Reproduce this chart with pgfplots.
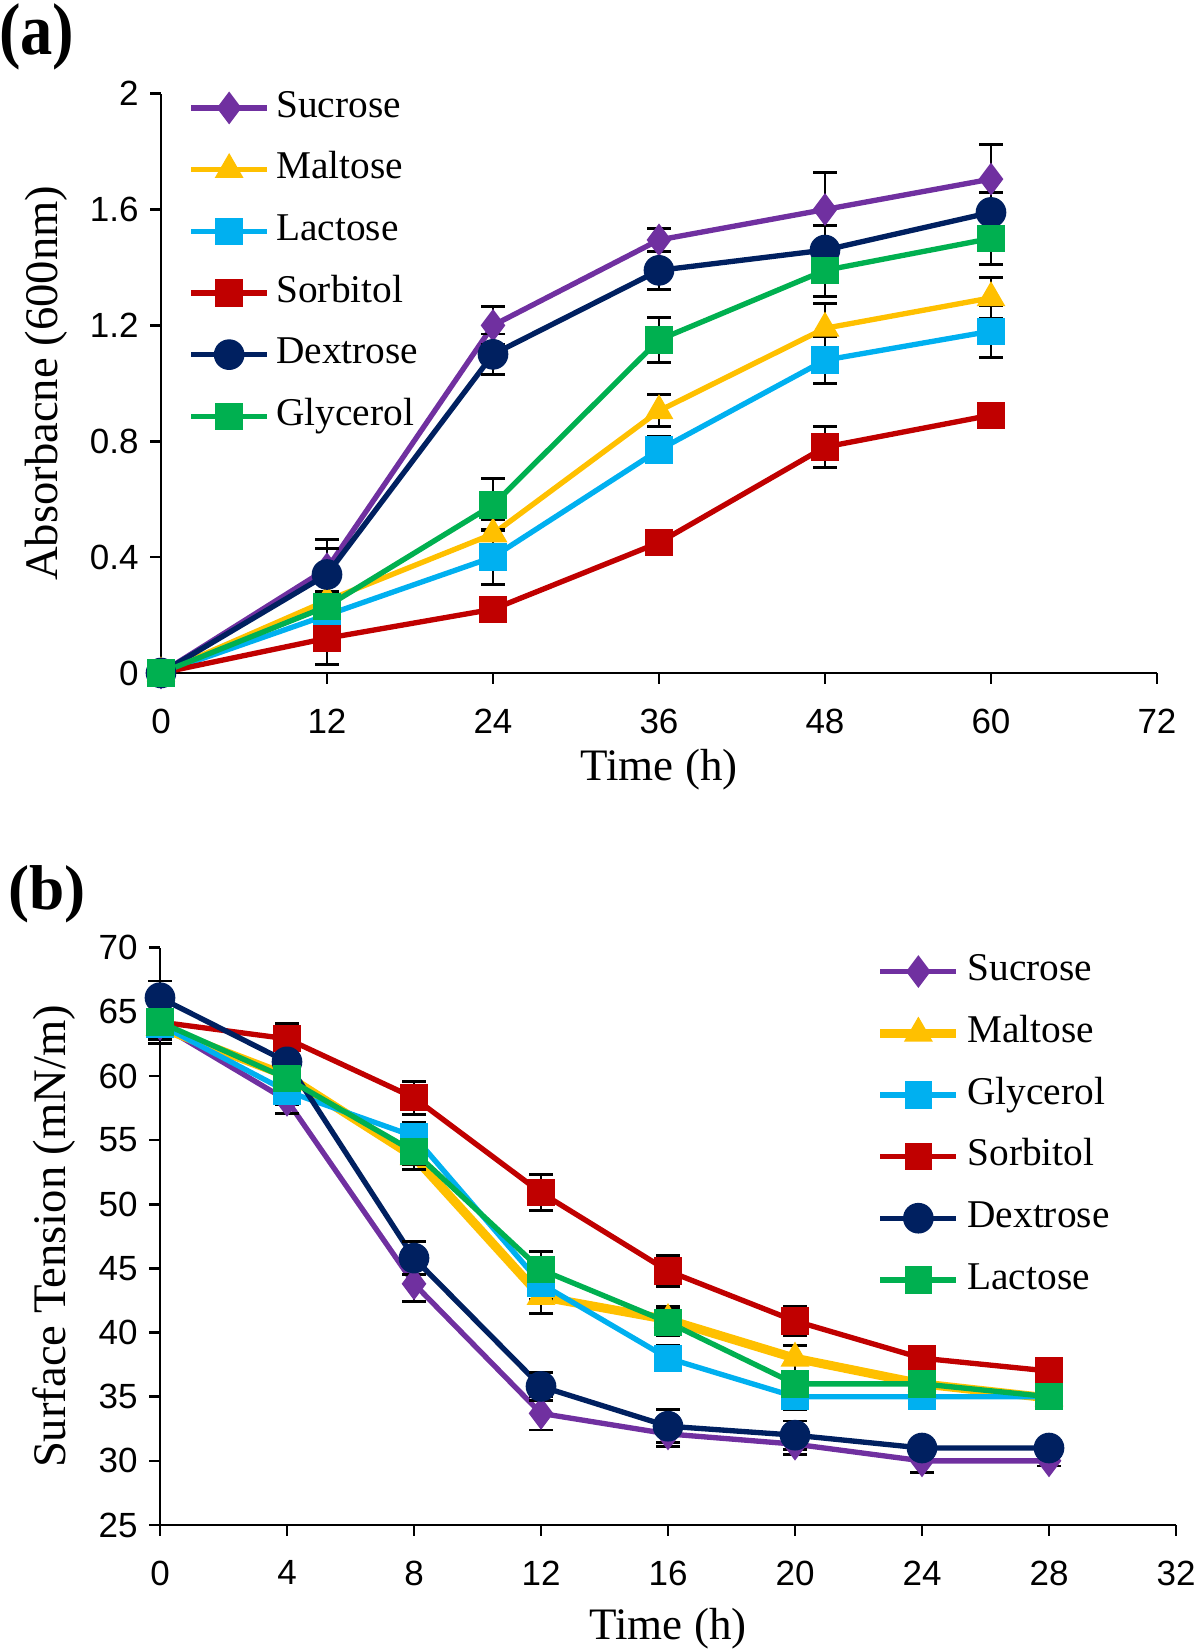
\documentclass[border=0pt]{standalone}
\usepackage{fontspec}
\setmainfont{Liberation Serif}
\newfontfamily\sansf{Liberation Sans}
\usepackage{pgfplots}
\pgfplotsset{compat=1.18}
\definecolor{cpur}{HTML}{7030A0}
\definecolor{cyel}{HTML}{FFC000}
\definecolor{ccya}{HTML}{00B0F0}
\definecolor{cred}{HTML}{C00000}
\definecolor{cnav}{HTML}{002060}
\definecolor{cgrn}{HTML}{00B050}
\pgfplotsset{
 myaxis/.style={
  scale only axis,
  axis x line*=bottom, axis y line*=left,
  axis line style={black, line width=0.8pt, -},
  tick align=outside, major tick length=3.2pt,
  tick style={black, line width=0.8pt},
  ticklabel style={font=\sansf\fontsize{10.5}{12}\selectfont},
  xticklabel style={yshift=-4pt},
  /pgf/number format/assume math mode=true,
  xlabel style={font=\fontsize{13.5}{16}\selectfont},
  ylabel style={font=\fontsize{14}{16}\selectfont},
  clip=false,
  legend cell align=left,
  legend style={draw=none, fill=none, inner sep=0pt, font=\fontsize{11.8}{14}\selectfont, row sep=7pt, column sep=2pt, nodes={inner sep=0pt, text height=8.5pt, text depth=3pt}},
  legend image code/.code={\draw[mark repeat=2,mark phase=2] plot coordinates {(0cm,0cm) (0.4cm,0cm) (0.8cm,0cm)};},
 },
 eb/.style={line width=1.6pt, mark options={solid, line width=0.4pt},
  error bars/y dir=both, error bars/y explicit,
  error bars/error bar style={black, line width=0.85pt, solid},
  error bars/error mark options={black, line width=0.85pt, mark size=3.6pt, rotate=90}},
 sucr/.style={color=cpur, mark=diamond*, mark size=4.6pt, eb},
 malt/.style={color=cyel, mark=triangle*, mark size=4.6pt, eb},
 sqc/.style={color=#1, mark=square*, mark size=3.9pt, eb},
 dext/.style={color=cnav, mark=*, mark size=4.4pt, eb},
}
\begin{document}
\begin{tikzpicture}
\path[use as bounding box] (0,0) rectangle (360pt,494.7pt);
\node[font=\bfseries\fontsize{22}{24}\selectfont, xscale=0.88] at (11pt,483.6pt) {(a)};
\node[font=\bfseries\fontsize{19}{22}\selectfont] at (14.1pt,226.5pt) {(b)};
\begin{axis}[myaxis, at={(48.3pt,292.8pt)}, anchor=origin,
  width=298.8pt, height=173.8pt,
  xmin=0, xmax=72, ymin=0, ymax=2,
  xtick={0,12,24,36,48,60,72}, ytick={0,0.4,0.8,1.2,1.6,2},
  yticklabels={0,0.4,0.8,1.2,1.6,2},
  xlabel={Time (h)}, ylabel={Absorbacne (600nm)},
  xlabel style={yshift=2pt},
  legend style={at={(0.027,1.0095)}, anchor=north west}]
\addplot[sucr] table[row sep=\\, y error index=2] {x y e\\ 0 0 0.04\\ 12 0.36 0.10\\ 24 1.20 0.065\\ 36 1.495 0.04\\ 48 1.60 0.127\\ 60 1.705 0.12\\};
\addlegendentry{Sucrose}
\addplot[malt] table[row sep=\\, y error index=2] {x y e\\ 0 0 0.02\\ 12 0.25 0.03\\ 24 0.48 0.05\\ 36 0.905 0.055\\ 48 1.19 0.085\\ 60 1.295 0.07\\};
\addlegendentry{Maltose}
\addplot[sqc=ccya] table[row sep=\\, y error index=2] {x y e\\ 0 0 0.02\\ 12 0.20 0.03\\ 24 0.40 0.095\\ 36 0.77 0.045\\ 48 1.08 0.08\\ 60 1.18 0.09\\};
\addlegendentry{Lactose}
\addplot[sqc=cred] table[row sep=\\, y error index=2] {x y e\\ 0 0 0.02\\ 12 0.12 0.09\\ 24 0.22 0.035\\ 36 0.45 0.02\\ 48 0.78 0.07\\ 60 0.89 0.0\\};
\addlegendentry{Sorbitol}
\addplot[dext] table[row sep=\\, y error index=2] {x y e\\ 0 0 0.03\\ 12 0.34 0.09\\ 24 1.10 0.07\\ 36 1.39 0.065\\ 48 1.46 0.085\\ 60 1.59 0.07\\};
\addlegendentry{Dextrose}
\addplot[sqc=cgrn] table[row sep=\\, y error index=2] {x y e\\ 0 0 0.02\\ 12 0.23 0.03\\ 24 0.58 0.09\\ 36 1.15 0.078\\ 48 1.39 0.09\\ 60 1.50 0.09\\};
\addlegendentry{Glycerol}
\end{axis}
\begin{axis}[myaxis, at={(48pt,37.2pt)}, anchor=origin,
  width=304.8pt, height=173.2pt,
  xmin=0, xmax=32, ymin=25, ymax=70,
  xtick={0,4,...,32}, ytick={25,30,...,70},
  xlabel={Time (h)}, ylabel={Surface Tension (mN/m)},
  legend style={at={(0.704,0.993)}, anchor=north west}]
\addplot[sucr] table[row sep=\\, y error index=2] {x y e\\ 0 64.0 1.5\\ 4 58.1 1.0\\ 8 43.8 1.4\\ 12 33.7 1.3\\ 16 32.1 1.0\\ 20 31.3 0.8\\ 24 30.0 0.9\\ 28 30.0 0.4\\};
\addlegendentry{Sucrose}
\addplot[malt, line width=2.7pt] table[row sep=\\, y error index=2] {x y e\\ 0 63.8 1.0\\ 4 60.0 1.0\\ 8 53.7 1.0\\ 12 42.8 1.3\\ 16 41.0 1.0\\ 20 38.0 1.0\\ 24 36.0 0.6\\ 28 34.9 0.5\\};
\addlegendentry{Maltose}
\addplot[sqc=ccya] table[row sep=\\, y error index=2] {x y e\\ 0 64.0 1.0\\ 4 58.8 1.0\\ 8 55.3 1.1\\ 12 43.8 1.2\\ 16 38.0 1.0\\ 20 35.0 1.0\\ 24 35.0 0.5\\ 28 35.0 0.3\\};
\addlegendentry{Glycerol}
\addplot[sqc=cred] table[row sep=\\, y error index=2] {x y e\\ 0 64.2 1.0\\ 4 62.9 1.2\\ 8 58.3 1.3\\ 12 50.9 1.4\\ 16 44.8 1.2\\ 20 40.9 1.1\\ 24 38.0 0.5\\ 28 37.0 0.3\\};
\addlegendentry{Sorbitol}
\addplot[dext] table[row sep=\\, y error index=2] {x y e\\ 0 66.1 1.3\\ 4 61.1 1.0\\ 8 45.8 1.3\\ 12 35.8 1.1\\ 16 32.7 1.3\\ 20 32.0 1.1\\ 24 31.0 0.5\\ 28 31.0 0.3\\};
\addlegendentry{Dextrose}
\addplot[sqc=cgrn] table[row sep=\\, y error index=2] {x y e\\ 0 64.2 1.0\\ 4 59.8 1.0\\ 8 54.1 1.0\\ 12 44.9 1.4\\ 16 40.8 1.0\\ 20 36.0 1.0\\ 24 36.0 0.5\\ 28 35.0 0.3\\};
\addlegendentry{Lactose}
\end{axis}
\end{tikzpicture}
\end{document}
